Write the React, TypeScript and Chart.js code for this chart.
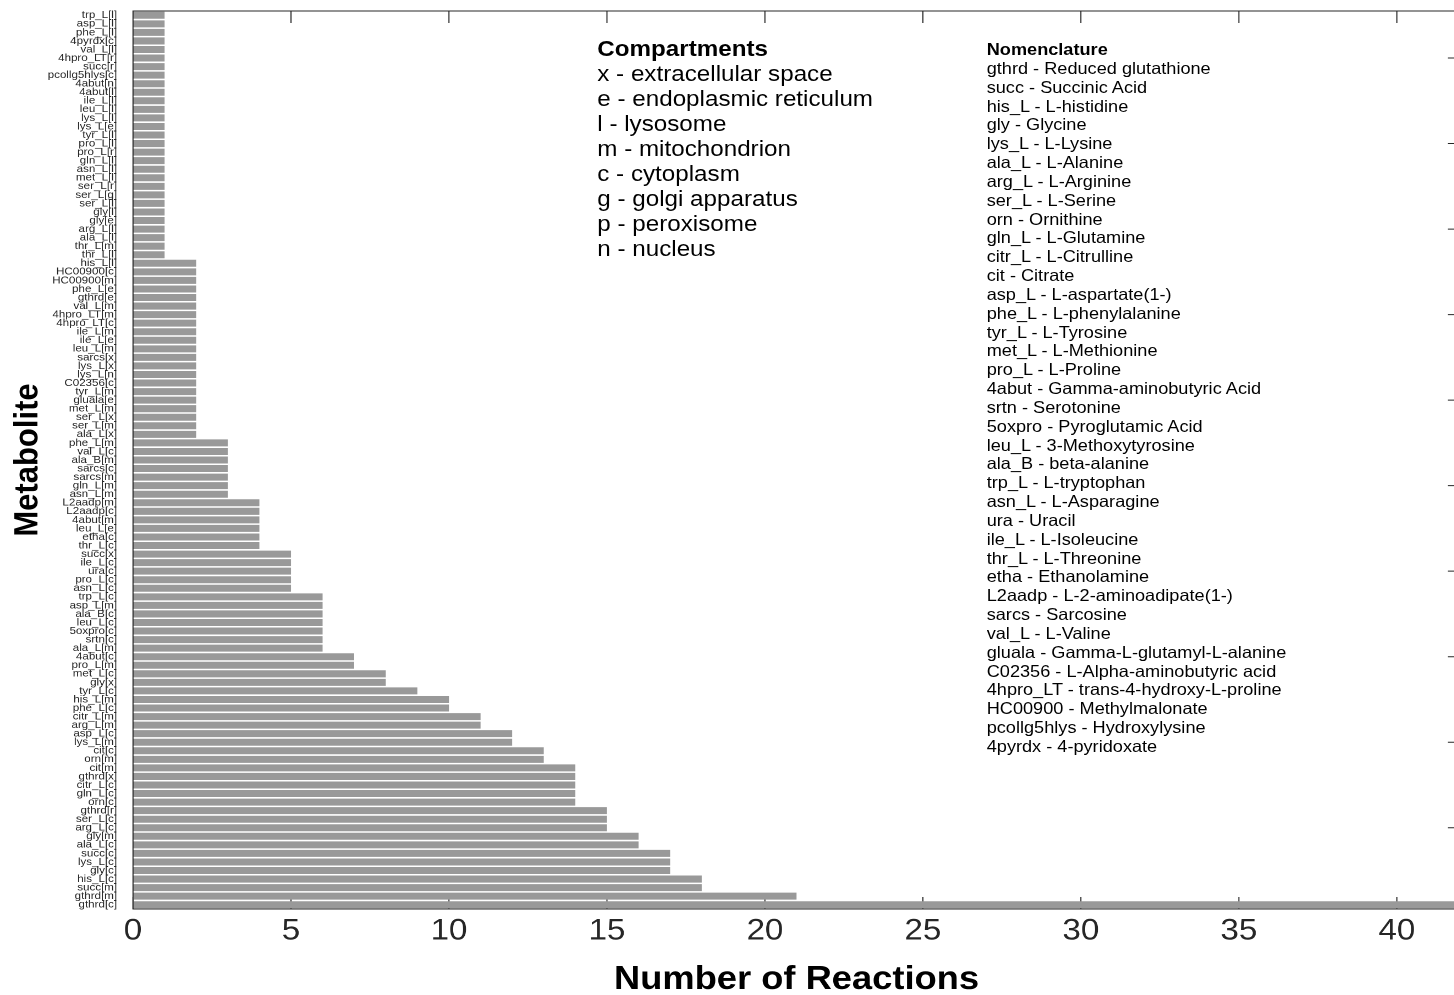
import React, { useEffect, useRef } from 'react';
import { Chart, registerables } from 'chart.js';

Chart.register(...registerables);

// ---------- data (top to bottom as drawn) ----------
const metabolites = [
  'trp_L[l]', 'asp_L[l]', 'phe_L[l]', '4pyrdx[c]', 'val_L[l]', '4hpro_LT[r]', 'succ[r]', 'pcollg5hlys[c]',
  '4abut[n]', '4abut[l]', 'ile_L[l]', 'leu_L[l]', 'lys_L[l]', 'lys_L[e]', 'tyr_L[l]', 'pro_L[l]', 'pro_L[r]',
  'gln_L[l]', 'asn_L[l]', 'met_L[l]', 'ser_L[r]', 'ser_L[g]', 'ser_L[l]', 'gly[l]', 'gly[e]', 'arg_L[l]',
  'ala_L[l]', 'thr_L[m]', 'thr_L[l]',
  'his_L[l]', 'HC00900[c]', 'HC00900[m]', 'phe_L[e]', 'gthrd[e]', 'val_L[m]', '4hpro_LT[m]', '4hpro_LT[c]',
  'ile_L[m]', 'ile_L[e]', 'leu_L[m]', 'sarcs[x]', 'lys_L[x]', 'lys_L[n]', 'C02356[c]', 'tyr_L[m]', 'gluala[e]',
  'met_L[m]', 'ser_L[x]', 'ser_L[m]', 'ala_L[x]',
  'phe_L[m]', 'val_L[c]', 'ala_B[m]', 'sarcs[c]', 'sarcs[m]', 'gln_L[m]', 'asn_L[m]',
  'L2aadp[m]', 'L2aadp[c]', '4abut[m]', 'leu_L[e]', 'etha[c]', 'thr_L[c]',
  'succ[x]', 'ile_L[c]', 'ura[c]', 'pro_L[c]', 'asn_L[c]',
  'trp_L[c]', 'asp_L[m]', 'ala_B[c]', 'leu_L[c]', '5oxpro[c]', 'srtn[c]', 'ala_L[m]',
  '4abut[c]', 'pro_L[m]', 'met_L[c]', 'gly[x]', 'tyr_L[c]', 'his_L[m]', 'phe_L[c]', 'citr_L[m]', 'arg_L[m]',
  'asp_L[c]', 'lys_L[m]', 'cit[c]', 'orn[m]', 'cit[m]', 'gthrd[x]', 'citr_L[c]', 'gln_L[c]', 'orn[c]',
  'gthrd[r]', 'ser_L[c]', 'arg_L[c]', 'gly[m]', 'ala_L[c]', 'succ[c]', 'lys_L[c]', 'gly[c]', 'his_L[c]',
  'succ[m]', 'gthrd[m]', 'gthrd[c]',
];

const reactionCounts = [
  1, 1, 1, 1, 1, 1, 1, 1,
  1, 1, 1, 1, 1, 1, 1, 1, 1,
  1, 1, 1, 1, 1, 1, 1, 1, 1,
  1, 1, 1,
  2, 2, 2, 2, 2, 2, 2, 2,
  2, 2, 2, 2, 2, 2, 2, 2, 2,
  2, 2, 2, 2,
  3, 3, 3, 3, 3, 3, 3,
  4, 4, 4, 4, 4, 4,
  5, 5, 5, 5, 5,
  6, 6, 6, 6, 6, 6, 6,
  7, 7, 8, 8, 9, 10, 10, 11, 11,
  12, 12, 13, 13, 14, 14, 14, 14, 14,
  15, 15, 15, 16, 16, 17, 17, 17, 18,
  18, 21, 42,
];

const xTitle = 'Number of Reactions';
const yTitle = 'Metabolite';

const compartmentsTitle = 'Compartments';
const compartments = [
  'x - extracellular space',
  'e - endoplasmic reticulum',
  'l - lysosome',
  'm - mitochondrion',
  'c - cytoplasm',
  'g - golgi apparatus',
  'p - peroxisome',
  'n - nucleus',
];

const nomenclatureTitle = 'Nomenclature';
const nomenclature = [
  'gthrd - Reduced glutathione',
  'succ - Succinic Acid',
  'his_L - L-histidine',
  'gly - Glycine',
  'lys_L - L-Lysine',
  'ala_L - L-Alanine',
  'arg_L - L-Arginine',
  'ser_L - L-Serine',
  'orn - Ornithine',
  'gln_L - L-Glutamine',
  'citr_L - L-Citrulline',
  'cit - Citrate',
  'asp_L - L-aspartate(1-)',
  'phe_L - L-phenylalanine',
  'tyr_L - L-Tyrosine',
  'met_L - L-Methionine',
  'pro_L - L-Proline',
  '4abut - Gamma-aminobutyric Acid',
  'srtn - Serotonine',
  '5oxpro - Pyroglutamic Acid',
  'leu_L - 3-Methoxytyrosine',
  'ala_B - beta-alanine',
  'trp_L - L-tryptophan',
  'asn_L - L-Asparagine',
  'ura - Uracil',
  'ile_L - L-Isoleucine',
  'thr_L - L-Threonine',
  'etha - Ethanolamine',
  'L2aadp - L-2-aminoadipate(1-)',
  'sarcs - Sarcosine',
  'val_L - L-Valine',
  'gluala - Gamma-L-glutamyl-L-alanine',
  'C02356 - L-Alpha-aminobutyric acid',
  '4hpro_LT - trans-4-hydroxy-L-proline',
  'HC00900 - Methylmalonate',
  'pcollg5hlys - Hydroxylysine',
  '4pyrdx - 4-pyridoxate',
];

const rightTickCategories = [5, 15, 25, 35, 45, 55, 65, 75, 85, 95];

// ---------- layout ----------
const FONT = '"Liberation Sans", Arial, Helvetica, sans-serif';
const STRETCH = 1.1;
const W = 1328;
const H = 995;
const AXIS = '#262626';

const boxPlugin = {
  id: 'matlabBox',
  beforeDatasetsDraw(chart: any) {
    const { ctx, chartArea, scales } = chart;
    const x = scales.x;
    ctx.save();
    ctx.strokeStyle = AXIS;
    ctx.lineWidth = 1;
    ctx.beginPath();
    for (const t of x.ticks) {
      const px = x.getPixelForValue(t.value);
      ctx.moveTo(px, chartArea.bottom);
      ctx.lineTo(px, chartArea.bottom - 12);
    }
    ctx.stroke();
    ctx.restore();
  },
  afterDatasetsDraw(chart: any) {
    const { ctx, chartArea, scales } = chart;
    const x = scales.x;
    const y = scales.y;
    const { left, right, top, bottom } = chartArea;
    ctx.save();
    ctx.strokeStyle = AXIS;
    ctx.lineWidth = 1;
    ctx.beginPath();
    ctx.moveTo(left, top);
    ctx.lineTo(right, top);
    ctx.lineTo(right, bottom);
    ctx.lineTo(left, bottom);
    ctx.closePath();
    for (const t of x.ticks) {
      const px = x.getPixelForValue(t.value);
      ctx.moveTo(px, top);
      ctx.lineTo(px, top + 12);
    }
    for (const i of rightTickCategories) {
      const py = y.getPixelForValue(i);
      ctx.moveTo(right, py);
      ctx.lineTo(right - 11, py);
    }
    ctx.stroke();
    ctx.restore();
  },
};

export default function App() {
  const canvasRef = useRef<HTMLCanvasElement | null>(null);

  useEffect(() => {
    const canvas = canvasRef.current;
    if (!canvas) return;
    const chart = new Chart(canvas, {
      type: 'bar',
      data: {
        labels: metabolites,
        datasets: [
          {
            data: reactionCounts,
            backgroundColor: '#999999',
            borderWidth: 0,
            barPercentage: 0.82,
            categoryPercentage: 1,
          },
        ],
      },
      options: {
        indexAxis: 'y',
        responsive: false,
        animation: false,
        devicePixelRatio: 2,
        layout: { padding: { top: 11, right: 0.7, left: 0, bottom: 0 } },
        plugins: {
          legend: { display: false },
          tooltip: { enabled: false },
        },
        scales: {
          x: {
            type: 'linear',
            position: 'bottom',
            min: 0,
            max: 42,
            ticks: {
              stepSize: 5,
              includeBounds: false,
              color: AXIS,
              font: { family: FONT, size: 30 },
              padding: 4,
              maxRotation: 0,
            },
            grid: { display: false, drawTicks: false },
            border: { display: false },
            title: {
              display: true,
              text: xTitle,
              color: '#000000',
              font: { family: FONT, size: 33, weight: 'bold', lineHeight: 0.9 },
              padding: 0,
            },
            afterFit(scale: any) {
              scale.height = 86;
              scale.paddingLeft = 0;
              scale.paddingRight = 0;
            },
          },
          y: {
            ticks: {
              autoSkip: false,
              color: AXIS,
              font: { family: FONT, size: 10.5 },
              padding: 14.5,
            },
            grid: { display: false, drawTicks: false },
            border: { display: false },
            title: {
              display: true,
              text: yTitle,
              color: '#000000',
              font: { family: FONT, size: 31, weight: 'bold' },
              padding: { top: 7, bottom: 0 },
            },
            afterFit(scale: any) {
              scale.width = 120.9;
              scale.paddingTop = 0;
              scale.paddingBottom = 0;
            },
          },
        },
      } as any,
      plugins: [boxPlugin],
    });
    return () => chart.destroy();
  }, []);

  return (
    <div
      style={{
        position: 'fixed',
        left: 0,
        top: 0,
        width: 1454,
        height: 995,
        overflow: 'hidden',
        background: '#ffffff',
      }}
    >
      <div
        style={{
          position: 'absolute',
          left: 0,
          top: 0,
          width: W,
          height: H,
          transform: `scaleX(${STRETCH})`,
          transformOrigin: '0 0',
        }}
      >
        <canvas ref={canvasRef} width={W} height={H} style={{ display: 'block' }} />
        <div
          style={{
            position: 'absolute',
            left: 543,
            top: 35.5,
            fontFamily: FONT,
            fontSize: 22,
            lineHeight: '25px',
            color: '#000',
            whiteSpace: 'nowrap',
          }}
        >
          <div style={{ fontWeight: 'bold' }}>{compartmentsTitle}</div>
          {compartments.map((c) => (
            <div key={c}>{c}</div>
          ))}
        </div>
        <div
          style={{
            position: 'absolute',
            left: 897,
            top: 39,
            fontFamily: FONT,
            fontSize: 16.5,
            color: '#000',
            whiteSpace: 'nowrap',
          }}
        >
          <div style={{ fontWeight: 'bold', lineHeight: '20px' }}>{nomenclatureTitle}</div>
          {nomenclature.map((n) => (
            <div key={n} style={{ lineHeight: '18.83px' }}>
              {n}
            </div>
          ))}
        </div>
      </div>
    </div>
  );
}
